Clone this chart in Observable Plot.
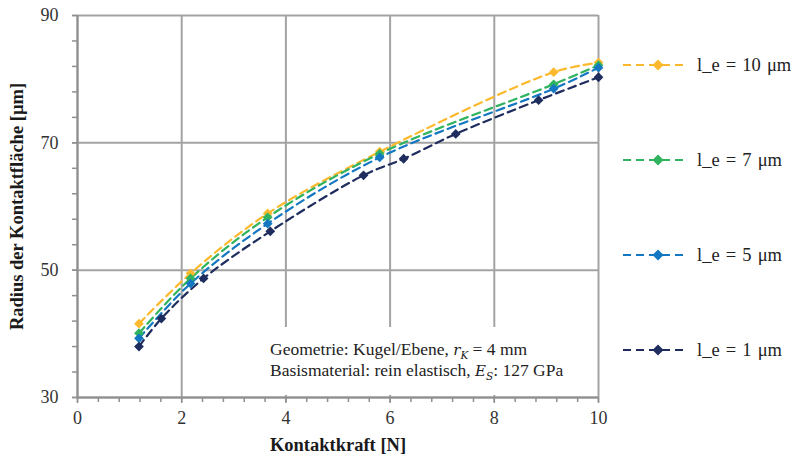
<!DOCTYPE html>
<html>
<head>
<meta charset="utf-8">
<script src="https://cdn.jsdelivr.net/npm/d3@7"></script>
<script src="https://cdn.jsdelivr.net/npm/@observablehq/plot@0.6"></script>
<style>
  body { margin: 0; background: #fff; }
  #wrap { position: relative; width: 802px; height: 456px; font-family: "Liberation Serif", "DejaVu Serif", serif; }
  #legend { position: absolute; left: 620px; top: 0; }
  .li { position: absolute; left: 0; width: 185px; height: 22px; display: flex; align-items: center; font-size: 18.5px; color: #222; white-space: nowrap; word-spacing: 1.5px; }
  .li svg { margin-right: 9px; }
  #note { position: absolute; left: 262px; top: 327px; width: 328px; height: 68px; background: #fff; font-size: 17.5px; color: #222; line-height: 21px; padding: 12px 0 0 8px; box-sizing: border-box; white-space: nowrap; }
  #note i { font-family: 'DejaVu Serif', serif; font-size: 15px; line-height: 0; }
  #note sub { font-size: 10.5px; line-height: 0; }
</style>
</head>
<body>
<div id="wrap"></div>
<script>
// Data
const seriesNames = ["l_e = 10 µm", "l_e = 7 µm", "l_e = 5 µm", "l_e = 1 µm"];
const seriesColors = ["#FDB92E", "#2FB35E", "#1477C2", "#1E2D5E"];
const forceA = [1.18, 2.17, 3.65, 5.8, 9.14, 10];
const le10 = [41.6, 49.5, 58.9, 68.6, 81.1, 82.6];
const le7 = [40.1, 48.7, 58.3, 68.3, 79.2, 82.2];
const le5 = [39.3, 47.9, 57.3, 67.7, 78.5, 81.8];
const forceB = [1.18, 1.61, 2.42, 3.7, 5.49, 6.26, 7.26, 8.85, 10];
const le1 = [38.0, 42.4, 48.7, 56.1, 64.9, 67.5, 71.4, 76.7, 80.3];
const xTicks = [0, 2, 4, 6, 8, 10];
const yTicks = [30, 50, 70, 90];
const xMinor = d3.range(0, 10.001, 0.4);
const yMinor = d3.range(30, 90.001, 4);

const rows = [];
[[le10, forceA], [le7, forceA], [le5, forceA], [le1, forceB]].forEach(([ys, xs], i) => {
  ys.forEach((v, j) => rows.push({series: seriesNames[i], x: xs[j], y: v}));
});

const gridColor = "#a3a3a3";
const color = {domain: seriesNames, range: seriesColors};

const plot = Plot.plot({
  width: 802,
  height: 456,
  marginLeft: 77,
  marginRight: 204,
  marginTop: 15,
  marginBottom: 59,
  style: {fontFamily: "'Liberation Serif', 'DejaVu Serif', serif", background: "transparent", fontSize: "18px"},
  x: {domain: [0, 10]},
  y: {domain: [30, 90]},
  color,
  marks: [
    Plot.gridX(xTicks, {stroke: gridColor, strokeOpacity: 1, strokeWidth: 2}),
    Plot.gridY(yTicks, {stroke: gridColor, strokeOpacity: 1, strokeWidth: 2}),
    Plot.axisX(xMinor, {tickSize: 5, tickFormat: () => "", stroke: "#8f8f8f", strokeWidth: 1.5, label: null}),
    Plot.axisY(yMinor, {tickSize: 5, tickFormat: () => "", stroke: "#8f8f8f", strokeWidth: 1.5, label: null}),
    Plot.axisX(xTicks, {tickSize: 6, tickPadding: 8, fontSize: 18, fill: "#333", stroke: "#8f8f8f", strokeWidth: 1.5,
      label: "Kontaktkraft [N]", labelAnchor: "center", labelArrow: "none", labelOffset: 53}),
    Plot.axisY(yTicks, {tickSize: 5, tickPadding: 14, fontSize: 18, fill: "#333", stroke: "#8f8f8f", strokeWidth: 1.5,
      label: "Radius der Kontaktfläche [µm]", labelAnchor: "center", labelArrow: "none", labelOffset: 68}),
    Plot.ruleX([0], {stroke: "#8f8f8f", strokeWidth: 2}),
    Plot.ruleY([30], {stroke: "#8f8f8f", strokeWidth: 2}),
    Plot.line(rows, {x: "x", y: "y", stroke: "series", z: "series", curve: "catmull-rom", strokeWidth: 2.2, strokeDasharray: "8,5"}),
    Plot.dot(rows, {x: "x", y: "y", fill: "series", symbol: "diamond2", r: 4.4, stroke: "none"})
  ]
});

const wrap = document.getElementById("wrap");
wrap.appendChild(plot);

// tick labels size
plot.querySelectorAll("g[aria-label='x-axis tick label'], g[aria-label='y-axis tick label']").forEach(g => {
  g.setAttribute("font-size", "18");
});
// axis titles bold
plot.querySelectorAll("g[aria-label='x-axis label'], g[aria-label='y-axis label']").forEach(g => {
  g.setAttribute("font-size", "18.5");
  g.setAttribute("font-weight", "bold");
  g.setAttribute("fill", "#1a1a1a");
});

// Legend
const legend = document.createElement("div");
legend.id = "legend";
const legendTops = [54, 149, 244, 339];
seriesNames.forEach((name, i) => {
  const item = document.createElement("div");
  item.className = "li";
  item.style.top = legendTops[i] + "px";
  const c = seriesColors[i];
  item.innerHTML = `<svg width="68" height="14"><line x1="3" x2="67" y1="7" y2="7" stroke="${c}" stroke-width="2.2" stroke-dasharray="8,5"/><path d="M38,1.5 L43.5,7 L38,12.5 L32.5,7 Z" fill="${c}"/></svg><span>${name.replace("µm", "\u03bcm")}</span>`;
  legend.appendChild(item);
});
wrap.appendChild(legend);

// Annotation
const note = document.createElement("div");
note.id = "note";
note.innerHTML = 'Geometrie: Kugel/Ebene, <i>r<sub>K</sub></i> = 4 mm<br>Basismaterial: rein elastisch, <i>E<sub>S</sub></i>: 127 GPa';
wrap.appendChild(note);
</script>
</body>
</html>
